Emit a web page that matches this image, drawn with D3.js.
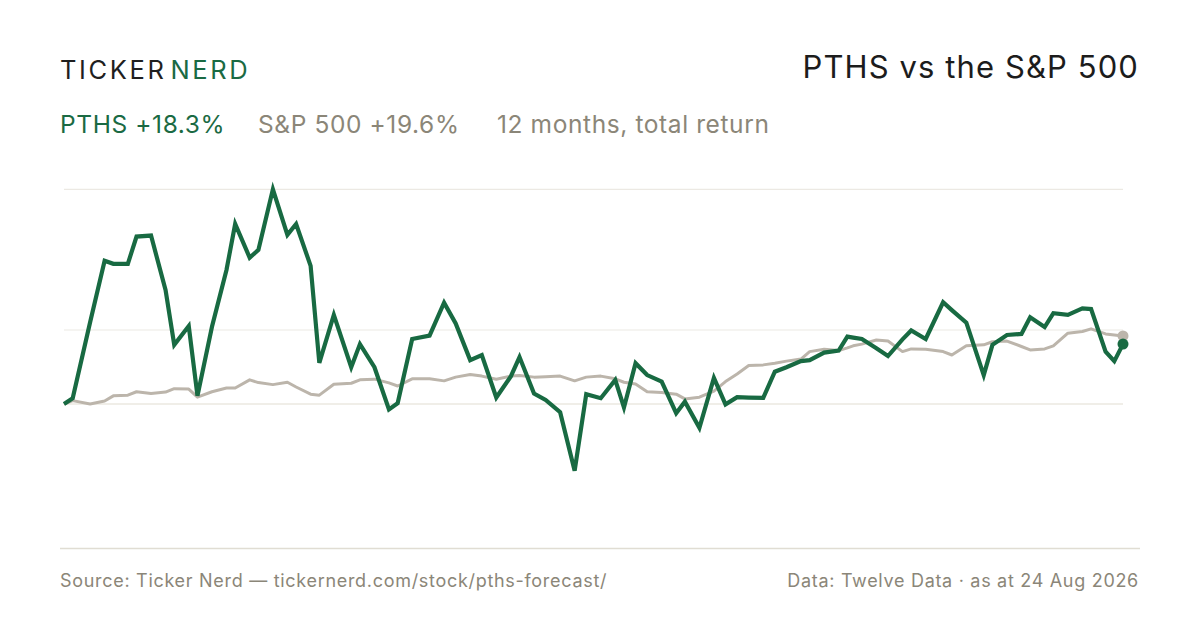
<!DOCTYPE html>
<html>
<head>
<meta charset="utf-8">
<script src="https://cdn.jsdelivr.net/npm/d3@7"></script>
<style>
	html, body { margin: 0; padding: 0; background: #fff; }
	svg { display: block; font-family: Inter, "Liberation Sans", sans-serif; }
</style>
</head>
<body>
<div id="graphe"></div>
<script>
"use strict";

// days since start of the 12-month window (one sample every ~3 sessions)
var days = [0, 3, 9, 14, 17, 22, 25, 30, 35, 38, 43, 46, 51, 56, 59, 64, 67, 72, 77, 80,
	85, 88, 93, 99, 102, 107, 112, 115, 120, 126, 131, 135, 140, 144, 149, 154, 157, 162, 166, 171,
	176, 180, 185, 190, 193, 197, 201, 206, 211, 214, 219, 224, 228, 232, 236, 241, 245, 249, 254, 257,
	262, 267, 270, 272, 275, 280, 284, 289, 292, 297, 303, 306, 311, 317, 320, 325, 330, 333, 338, 341,
	346, 351, 354, 359, 362, 365];

// cumulative return, %
var pths = [0, 1.7, 24.0, 42.1, 41.2, 41.2, 49.2, 49.5, 33.5, 17.4, 22.9, 2.4, 22.7, 39.4, 52.9, 43.0, 45.3, 63.1, 49.7, 52.9,
	40.6, 12.1, 26.2, 10.8, 17.6, 10.8, -1.6, 0.2, 19.1, 20.1, 29.8, 23.7, 12.9, 14.4, 1.9, 8.1, 13.8, 3.1, 1.2, -2.4,
	-19.6, 2.9, 1.7, 7.1, -1.0, 12.0, 8.5, 6.6, -2.7, 0.7, -7.0, 7.7, -0.1, 2.0, 1.9, 1.8, 9.5, 10.8, 12.6, 12.9,
	15.1, 15.7, 19.8, 19.5, 19.1, 16.4, 14.1, 19.0, 21.6, 19.1, 29.9, 27.6, 23.9, 8.5, 17.4, 20.3, 20.6, 25.5, 22.6, 26.7,
	26.2, 28.1, 27.9, 15.4, 12.6, 17.6];

var spx = [0, 1.0, 0, 0.9, 2.4, 2.6, 3.6, 3.1, 3.5, 4.5, 4.4, 2.0, 3.6, 4.7, 4.7, 7.1, 6.3, 5.7, 6.4, 5.0,
	2.9, 2.6, 5.8, 6.1, 7.1, 7.3, 6.2, 5.3, 7.4, 7.4, 6.8, 7.9, 8.7, 8.2, 7.3, 8.2, 8.4, 7.9, 8.0, 8.2,
	6.8, 7.9, 8.2, 7.4, 6.4, 5.9, 3.6, 3.4, 2.9, 1.5, 2.0, 3.8, 6.6, 8.8, 11.3, 11.5, 12.0, 12.6, 13.2, 15.4,
	16.1, 15.7, 16.5, 17.1, 17.6, 18.8, 18.5, 15.4, 16.2, 16.1, 15.4, 14.4, 17.1, 17.4, 18.3, 18.5, 16.9, 15.9, 16.2, 17.1,
	20.8, 21.3, 22.1, 20.6, 20.3, 20.0];

var legende = ["PTHS +18.3%", "S&P 500 +19.6%", "12 months, total return"];

var W = 1200, H = 630,
	vert = "#186a42", gris = "#bcb5ab",
	texteVert = "#1a6a43", texteGris = "#8b8678";

var svg = d3.select("#graphe").append("svg")
	.attr("width", W)
	.attr("height", H)
	.attr("viewBox", "0 0 " + W + " " + H);

// en-tête
var marque = svg.append("text")
	.attr("x", 60)
	.attr("y", 79)
	.attr("font-size", 25.5)
	.attr("letter-spacing", 2.6);
marque.append("tspan").attr("fill", "#1f1f1f").text("TICKER");
marque.append("tspan").attr("fill", texteVert).attr("dx", 4).text("NERD");

svg.append("text")
	.attr("x", 1139)
	.attr("y", 78)
	.attr("text-anchor", "end")
	.attr("font-size", 31)
	.attr("letter-spacing", 1.1)
	.attr("fill", "#1c1c1c")
	.text("PTHS vs the S&P 500");

var posLeg = [60, 258, 497];
svg.selectAll(".leg")
	.data(legende)
	.enter()
		.append("text")
		.attr("class", "leg")
		.attr("x", (d, i) => posLeg[i])
		.attr("y", 133)
		.attr("font-size", 24.5)
		.attr("letter-spacing", 0.6)
		.attr("fill", (d, i) => i === 0 ? texteVert : texteGris)
		.text(d => d);

// échelles
var x = d3.scaleLinear()
	.domain(d3.extent(days))
	.range([64, 1123]);

var ext = d3.extent(pths.concat(spx));
var y = d3.scaleLinear()
	.domain(ext)
	.range([470.7, 189.3]);

// grilles : haut, milieu, zéro
var grilles = [ext[1], (ext[0] + ext[1]) / 2];
svg.append("g")
	.selectAll("line")
	.data(grilles)
	.enter()
		.append("line")
		.attr("x1", x.range()[0])
		.attr("x2", x.range()[1])
		.attr("y1", d => y(d))
		.attr("y2", d => y(d))
		.attr("stroke", "#ece9e3")
		.attr("stroke-width", 1.2);

svg.append("line")
	.attr("x1", x.range()[0])
	.attr("x2", x.range()[1])
	.attr("y1", y(0))
	.attr("y2", y(0))
	.attr("stroke", "#e2ded2")
	.attr("stroke-width", 1.2);

var trace = d3.line()
	.x((d, i) => x(days[i]))
	.y(d => y(d));

svg.append("path")
	.datum(spx)
	.attr("d", trace)
	.attr("fill", "none")
	.attr("stroke", gris)
	.attr("stroke-width", 3)
	.attr("stroke-linejoin", "round");

svg.append("path")
	.datum(pths)
	.attr("d", trace)
	.attr("fill", "none")
	.attr("stroke", vert)
	.attr("stroke-width", 4.2)
	.attr("stroke-linejoin", "miter");

var n = days.length - 1;
svg.append("circle")
	.attr("cx", x(days[n]))
	.attr("cy", y(spx[n]))
	.attr("r", 5.5)
	.attr("fill", gris);
svg.append("circle")
	.attr("cx", x(days[n]))
	.attr("cy", y(pths[n]))
	.attr("r", 5.5)
	.attr("fill", vert);

// pied
svg.append("line")
	.attr("x1", 60)
	.attr("x2", 1140)
	.attr("y1", 548.5)
	.attr("y2", 548.5)
	.attr("stroke", "#e0ddd3")
	.attr("stroke-width", 1.5);

svg.append("text")
	.attr("x", 60)
	.attr("y", 587)
	.attr("font-size", 18)
	.attr("letter-spacing", 0.7)
	.attr("fill", texteGris)
	.text("Source: Ticker Nerd — tickernerd.com/stock/pths-forecast/");

svg.append("text")
	.attr("x", 1139)
	.attr("y", 587)
	.attr("text-anchor", "end")
	.attr("font-size", 18)
	.attr("letter-spacing", 0.7)
	.attr("fill", texteGris)
	.text("Data: Twelve Data · as at 24 Aug 2026");
</script>
</body>
</html>
